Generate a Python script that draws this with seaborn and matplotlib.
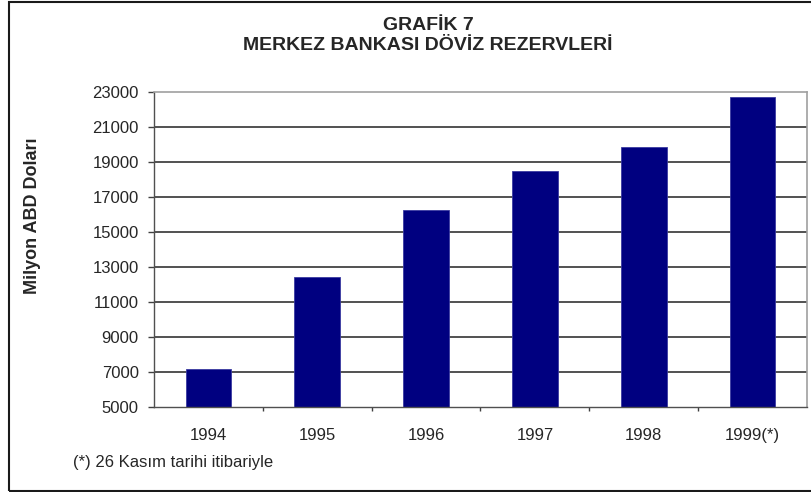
import matplotlib

matplotlib.use("Agg")

import matplotlib.pyplot as plt
import matplotlib.patches as mpatches
import numpy as np
import pandas as pd
import seaborn as sns

years = ["1994", "1995", "1996", "1997", "1998", "1999(*)"]
reserves = [7150, 12400, 16230, 18480, 19830, 22690]
y_ticks = [5000, 7000, 9000, 11000, 13000, 15000, 17000, 19000, 21000, 23000]

title_line1 = "GRAFİK 7"
title_line2 = "MERKEZ BANKASI DÖVİZ REZERVLERİ"
y_label = "Milyon ABD Doları"
footnote = "(*) 26 Kasım tarihi itibariyle"

sns.set_theme(style="white")
plt.rcParams["font.family"] = ["Liberation Sans", "DejaVu Sans"]
plt.rcParams["axes.unicode_minus"] = False

df = pd.DataFrame({"year": years, "reserve": reserves})

W, H = 812, 492
fig = plt.figure(figsize=(W / 100, H / 100), dpi=100)
ax = fig.add_axes([154 / W, 1 - 406.7 / H, 653 / W, 315 / H])

# gridlines first so bars sit on top
for v in y_ticks[1:-1]:
    ax.axhline(v, color="#222222", lw=1.1, zorder=0)

sns.barplot(data=df, x="year", y="reserve", color="#000080", width=0.42,
            edgecolor="#3a3aa0", linewidth=0.6, saturation=1, ax=ax, zorder=2)

ax.set_ylim(5000, 23000)
ax.set_xlim(-0.5, len(years) - 0.5)
ax.set_yticks(y_ticks)
ax.set_yticklabels([str(v) for v in y_ticks])
ax.set_xlabel("")
ax.set_ylabel("")

ax.tick_params(axis="y", which="major", direction="out", length=4, width=1,
               color="#404040", pad=7, labelsize=12, left=True)
ax.tick_params(axis="x", which="major", length=0, pad=15, labelsize=12)
ax.set_xticks(np.arange(0.5, len(years) - 0.5), minor=True)
ax.tick_params(axis="x", which="minor", direction="out", length=3, width=1,
               color="#404040", bottom=True)

for side in ["left", "bottom"]:
    ax.spines[side].set_color("#505050")
    ax.spines[side].set_linewidth(1.0)
for side in ["top", "right"]:
    ax.spines[side].set_color("#a0a0a0")
    ax.spines[side].set_linewidth(1.2)

fig.text(33 / W, 1 - 216 / H, y_label, rotation=90, ha="center", va="center",
         fontsize=13, fontweight="bold")
fig.text(428 / W, 1 - 25 / H, title_line1, ha="center", va="center",
         fontsize=14, fontweight="bold")
fig.text(428 / W, 1 - 46 / H, title_line2, ha="center", va="center",
         fontsize=14, fontweight="bold")
fig.text(73 / W, 1 - 462 / H, footnote, ha="left", va="center", fontsize=12)

# outer chart frame
frame = mpatches.Rectangle((9 / W, 1 - 490.5 / H), 1.2, 490.5 / H - 1.5 / H,
                           transform=fig.transFigure, fill=False,
                           edgecolor="#1a1a1a", linewidth=1.5)
fig.patches.append(frame)

fig.savefig("out.png", dpi=100)
